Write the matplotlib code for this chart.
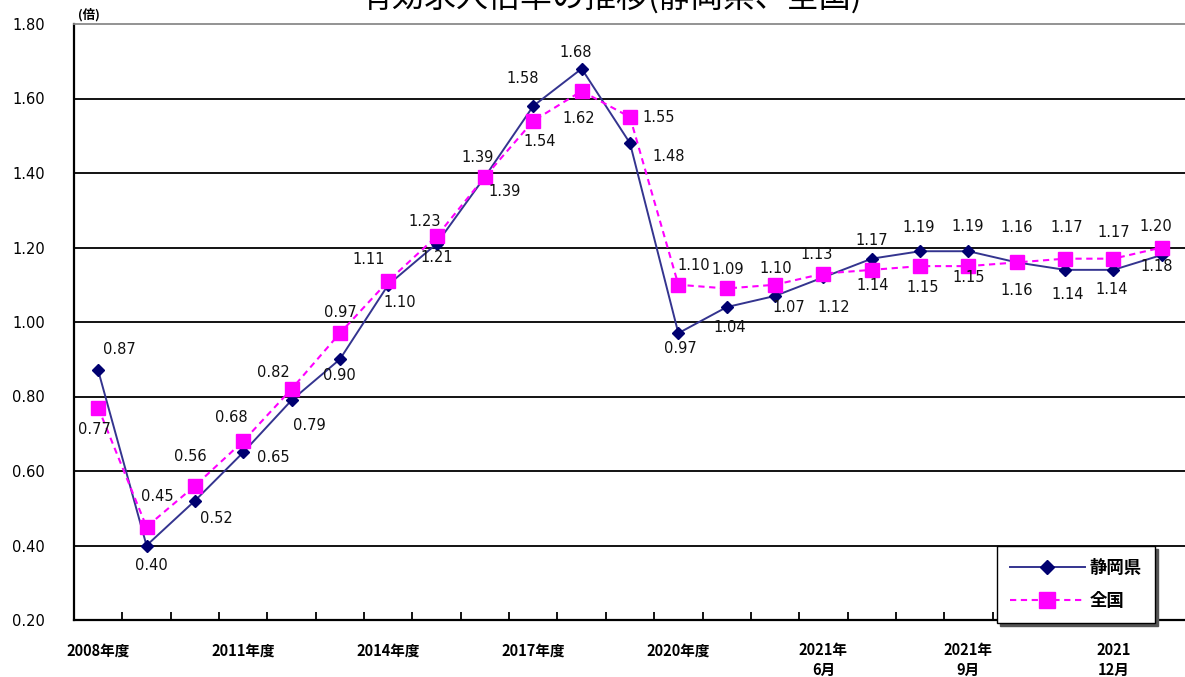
import matplotlib
matplotlib.use("Agg")
import matplotlib.pyplot as plt
from matplotlib.lines import Line2D
import numpy as np

# ---- data ----
shizuoka = [0.87, 0.40, 0.52, 0.65, 0.79, 0.90, 1.10, 1.21, 1.39, 1.58, 1.68, 1.48,
            0.97, 1.04, 1.07, 1.12, 1.17, 1.19, 1.19, 1.16, 1.14, 1.14, 1.18]
national = [0.77, 0.45, 0.56, 0.68, 0.82, 0.97, 1.11, 1.23, 1.39, 1.54, 1.62, 1.55,
            1.10, 1.09, 1.10, 1.13, 1.14, 1.15, 1.15, 1.16, 1.17, 1.17, 1.20]
tick_positions = [0, 3, 6, 9, 12, 15, 18, 21]
tick_labels = ["2008年度", "2011年度", "2014年度", "2017年度", "2020年度",
               "2021年\n6月", "2021年\n9月", "2021\n12月"]
y_ticks = [0.20, 0.40, 0.60, 0.80, 1.00, 1.20, 1.40, 1.60, 1.80]
series_names = ["静岡県", "全国"]
title = "有効求人倍率の推移(静岡県、全国)"

# value-label offsets in pixels (dx right, dy down)
shizuoka_label_offsets = [(21, -21), (5, 20), (22, 18), (30, 5), (18, 25), (-1, 16),
                          (11, 18), (0, 14), (20, 15), (-11, -27), (-6, -16), (39, 13),
                          (2, 15), (3, 20), (14, 12), (10, 30), (0, -18), (-1, -24),
                          (-1, -25), (0, -35), (3, 25), (-2, 20), (-5, 12)]
national_label_offsets = [(-4, 22), (11, -30), (-5, -29), (-12, -24), (-18, -17), (0, -21),
                          (-20, -22), (-12, -15), (-7, -19), (6, 21), (-3, 27), (29, 0),
                          (15, -19), (1, -19), (1, -16), (-7, -19), (1, 16), (3, 21),
                          (0, 11), (0, 28), (2, -31), (0, -26), (-6, -21)]

W, H = 1185, 677
fig = plt.figure(figsize=(W / 100, H / 100), dpi=100)
fig.patch.set_facecolor("white")

left_px, right_px, top_px, bottom_px = 74, 1186, 24, 620
ax = fig.add_axes([left_px / W, 1 - bottom_px / H,
                   (right_px - left_px) / W, (bottom_px - top_px) / H])

x = np.arange(len(shizuoka))
navy_line = "#34348f"
navy_mark = "#000070"
magenta = "#ff00ff"

ax.set_xlim(-0.5, len(x) - 0.5)
ax.set_ylim(0.20, 1.80)

# horizontal grid lines
for yv in y_ticks[1:-1]:
    ax.axhline(yv, color="black", lw=1.3, zorder=1)

ax.plot(x, shizuoka, color=navy_line, lw=1.4, marker="D", ms=6,
        mfc=navy_mark, mec=navy_mark, zorder=3, clip_on=False)
ax.plot(x, national, color=magenta, lw=1.5, dashes=(3, 2.2), marker="s", ms=10.5,
        mfc=magenta, mec=magenta, zorder=4, clip_on=False)

label_font = dict(fontsize=10.5, family="DejaVu Sans", color="#111111",
                  ha="center", va="center", zorder=6)
for xi, v, (dx, dy) in zip(x, shizuoka, shizuoka_label_offsets):
    ax.annotate(f"{v:.2f}", (xi, v), xytext=(dx, -dy),
                textcoords="offset pixels", **label_font)
for xi, v, (dx, dy) in zip(x, national, national_label_offsets):
    ax.annotate(f"{v:.2f}", (xi, v), xytext=(dx, -dy),
                textcoords="offset pixels", **label_font)

# axes frame
ax.spines["right"].set_visible(False)
ax.spines["top"].set_color("#8a8a8a")
ax.spines["top"].set_linewidth(1.3)
ax.spines["left"].set_color("black")
ax.spines["left"].set_linewidth(1.6)
ax.spines["bottom"].set_color("black")
ax.spines["bottom"].set_linewidth(1.6)

# y axis
ax.set_yticks(y_ticks)
ax.set_yticklabels([f"{v:.2f}" for v in y_ticks], fontsize=10.5, family="DejaVu Sans")
ax.tick_params(axis="y", length=0, pad=21)

# x axis: labels at category centres, tick marks at category boundaries
ax.set_xticks(tick_positions)
ax.set_xticklabels(tick_labels, family="Noto Sans CJK JP", fontweight="bold",
                   fontsize=10.5, linespacing=1.28)
ax.tick_params(axis="x", which="major", length=0, pad=16)
ax.set_xticks(np.arange(0.5, len(x) - 1, 1.0), minor=True)
ax.tick_params(axis="x", which="minor", direction="in", length=5.5, width=1.3,
               color="black")

# unit label
fig.text(89 / W, 1 - 15 / H, "(倍)", family="Noto Sans CJK JP", fontweight="bold",
         fontsize=9, ha="center", va="center")

# title (sits at the very top edge)
fig.text(612 / W, 1 - 7 / H, title, family="Noto Sans CJK JP", fontsize=23,
         ha="center", va="baseline")

# legend
handles = [
    Line2D([], [], color=navy_line, lw=1.4, marker="D", ms=7, mfc=navy_mark, mec=navy_mark),
    Line2D([], [], color=magenta, lw=1.5, dashes=(3, 2.2), marker="s", ms=11,
           mfc=magenta, mec=magenta),
]
leg = ax.legend(handles, series_names, loc="lower left",
                bbox_to_anchor=(997 / W, 1 - 623 / H), bbox_transform=fig.transFigure,
                prop={"family": "Noto Sans CJK JP", "weight": "bold", "size": 12.5},
                handlelength=4.3, handletextpad=0.3, labelspacing=0.85,
                borderpad=0.75, borderaxespad=0, fancybox=False, framealpha=1,
                shadow={"ox": 2, "oy": -2, "color": "#555555", "alpha": 1})
leg.get_frame().set_edgecolor("black")
leg.get_frame().set_linewidth(1.0)
leg.set_zorder(10)

fig.savefig("out.png", dpi=100, facecolor="white")
